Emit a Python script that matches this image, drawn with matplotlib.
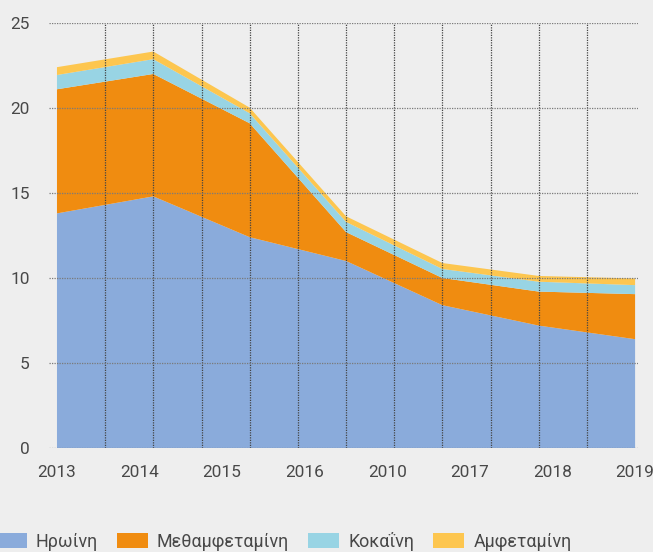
import matplotlib

matplotlib.use("Agg")
import matplotlib.pyplot as plt
import numpy as np
from matplotlib.patches import Patch

plt.rcParams["font.family"] = ["Roboto", "DejaVu Sans"]

# seizures per year, stacked by substance
years = ["2013", "2014", "2015", "2016", "2010", "2017", "2018", "2019"]
heroin = [13.8, 14.8, 12.4, 11.0, 8.4, 7.2, 6.4]
meth = [7.3, 7.2, 6.7, 1.7, 1.6, 2.0, 2.65]
cocaine = [0.84, 0.87, 0.59, 0.6, 0.53, 0.58, 0.53]
amphetamine = [0.46, 0.45, 0.33, 0.33, 0.35, 0.34, 0.39]

labels = ["Ηρωίνη", "Μεθαμφεταμίνη", "Κοκαΐνη", "Αμφεταμίνη"]
colors = ["#8aabdb", "#f08c10", "#98d4e4", "#fdc64f"]

BG = "#eeeeee"
TEXT = "#484848"

fig = plt.figure(figsize=(6.53, 5.52), dpi=100, facecolor=BG)
ax = fig.add_axes([0.075, 0.1884, 0.902, 0.770], facecolor=BG)

x = np.arange(len(heroin))
ax.stackplot(x, heroin, meth, cocaine, amphetamine, colors=colors,
             linewidth=0, zorder=1)

ax.set_xlim(-0.083, 6.03)
ax.set_ylim(0, 25)

# year labels are spread evenly over the full span
ax.set_xticks(np.linspace(0, 6, len(years)))
ax.set_xticklabels(years)
ax.set_xticks(np.arange(0, 6.01, 0.5), minor=True)
ax.set_yticks(np.arange(0, 26, 5))

ax.grid(which="minor", axis="x", color="#444444", linestyle=(0, (1, 1)),
        linewidth=0.9, zorder=3)
ax.grid(which="major", axis="y", color="#7a7a7a", linestyle=(0, (1, 1)),
        linewidth=0.9, zorder=3)
ax.grid(which="major", axis="x", visible=False)
ax.set_axisbelow(False)

ax.tick_params(which="both", length=0, labelsize=12.4, colors=TEXT)
ax.tick_params(axis="y", pad=14)
ax.tick_params(axis="x", pad=12)
for s in ax.spines.values():
    s.set_visible(False)

handles = [Patch(facecolor=c, edgecolor="none") for c in colors]
fig.legend(handles, labels, loc="lower left", ncol=4, frameon=False,
           bbox_to_anchor=(-0.021, -0.014), fontsize=12.9,
           handlelength=1.75, handleheight=0.85, handletextpad=0.5,
           columnspacing=1.05, borderpad=0, labelcolor=TEXT)

fig.savefig("out.png", dpi=100, facecolor=BG)
